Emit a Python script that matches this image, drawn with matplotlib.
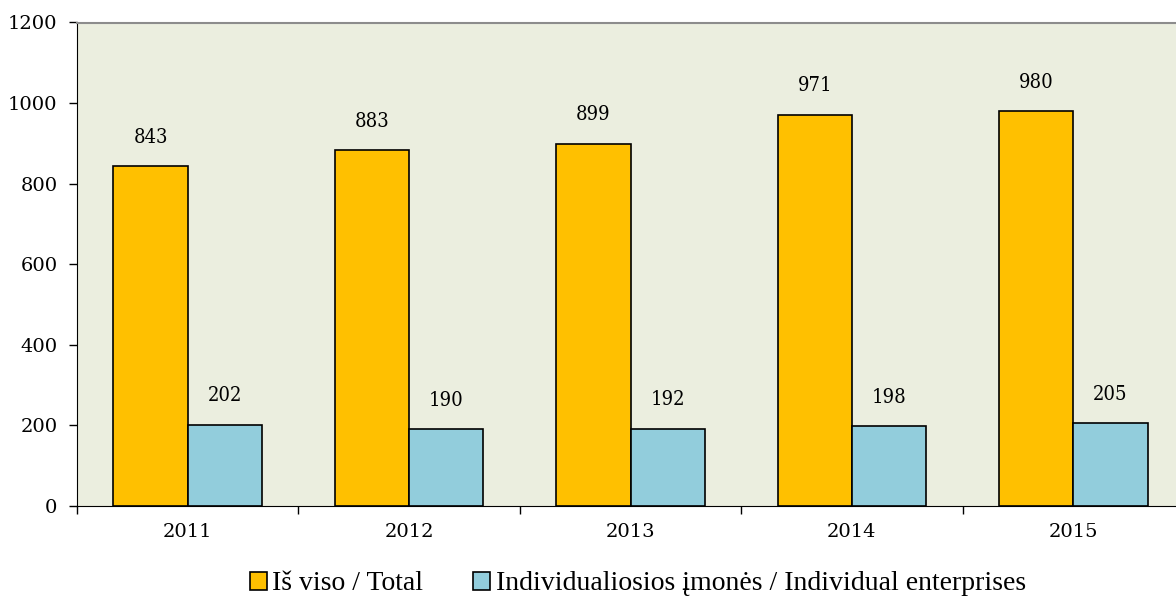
import matplotlib
matplotlib.use("Agg")
import matplotlib.pyplot as plt
import numpy as np

years = ["2011", "2012", "2013", "2014", "2015"]
total = [843, 883, 899, 971, 980]
individual = [202, 190, 192, 198, 205]
series_names = ["Iš viso / Total", "Individualiosios įmonės / Individual enterprises"]

plt.rcParams['font.family'] = ['Liberation Serif', 'DejaVu Serif']

W, H = 1176, 602
fig = plt.figure(figsize=(W/100, H/100), dpi=100)
left, right, top, bottom = 77, 1184, 22.5, 506
ax = fig.add_axes([left/W, 1-bottom/H, (right-left)/W, (bottom-top)/H])
ax.set_facecolor('#EBEEDF')

x = np.arange(len(years))
bw = 0.336
b1 = ax.bar(x - bw/2, total, bw, color='#FFC000', edgecolor='black', linewidth=1.2, label=series_names[0])
b2 = ax.bar(x + bw/2, individual, bw, color='#92CDDC', edgecolor='black', linewidth=1.2, label=series_names[1])

for rect, v in zip(list(b1) + list(b2), total + individual):
    ax.text(rect.get_x() + rect.get_width()/2, v + 29*1200/484, str(v),
            ha='center', va='center', fontsize=14.5, family=['DejaVu Serif'], stretch='condensed')

ax.set_xlim(-0.5, len(years) - 0.5)
ax.set_ylim(0, 1200)
ax.set_yticks(range(0, 1201, 200))
ax.set_xticks(x)
ax.set_xticklabels(years)
ax.set_xticks(np.arange(-0.5, len(years) + 0.5, 1), minor=True)
ax.tick_params(axis='x', which='major', length=0, pad=12)
ax.tick_params(axis='x', which='minor', length=6, width=1, direction='out')
ax.tick_params(axis='y', length=6, width=1, direction='out', pad=8)
for lab in ax.get_xticklabels() + ax.get_yticklabels():
    lab.set_fontsize(14)
    lab.set_family(['DejaVu Serif'])
ax.spines['left'].set_color('black')
ax.spines['bottom'].set_color('black')
ax.spines['top'].set_color('#8C8C8C')
ax.spines['top'].set_linewidth(1.5)
ax.spines['right'].set_visible(False)

leg = fig.legend(handles=[b1, b2], labels=series_names, loc='center', bbox_to_anchor=(638/W, 1-584/H),
                 ncol=2, frameon=False, fontsize=20, handlelength=0.6, handleheight=0.6,
                 handletextpad=0.2, columnspacing=1.8)

fig.savefig('out.png', dpi=100)
